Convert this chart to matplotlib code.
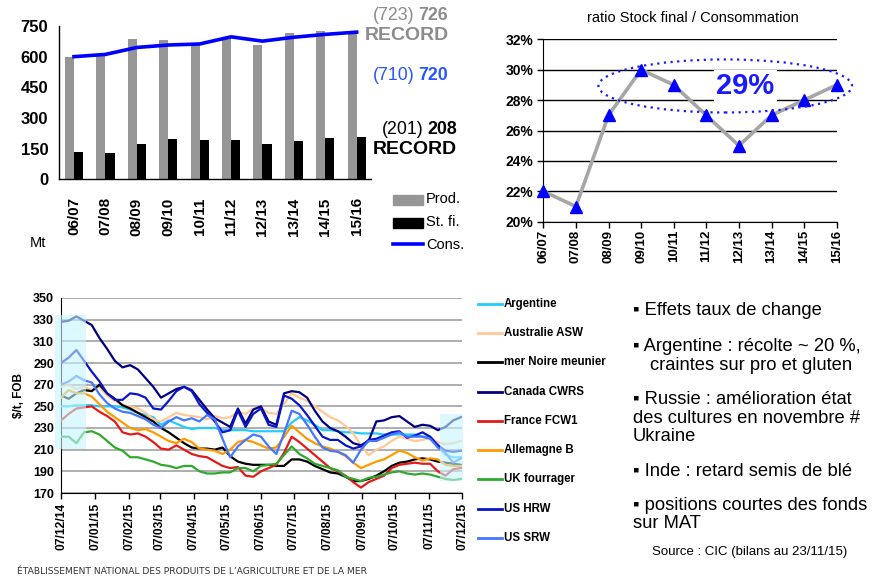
import numpy as np
import pandas as pd
import matplotlib
matplotlib.use('Agg')
import matplotlib.pyplot as plt
import matplotlib.dates as mdates
from matplotlib.patches import Rectangle, Ellipse
from matplotlib.lines import Line2D

plt.rcParams['font.family'] = ['Liberation Sans', 'DejaVu Sans']

# ---------------- data ----------------
campaigns = ['06/07', '07/08', '08/09', '09/10', '10/11', '11/12', '12/13', '13/14', '14/15', '15/16']
production = [597, 604, 686, 680, 662, 696, 659, 716, 725, 723]
stock_final = [134, 129, 173, 197, 192, 192, 173, 188, 203, 208]
consumption = [600, 611, 645, 657, 662, 697, 676, 695, 709, 720]
ratio_pct = [22, 21, 27, 30, 29, 27, 25, 27, 28, 29]

price_dates = pd.date_range('2014-12-07', periods=53, freq='7D')
argentine = [250, 250, 251, 251, 251, 250, 250, 250, 249, 247,
             244, 242, 240, 233, 237, 234, 231, 229, 230, 230,
             230, 228, 228, 228, 228, 227, 227, 227, 227, 227,
             235, 240, 237, 233, 228, 228, 227, 226, 226, 225,
             225, 225, 224, 224, 224, 224, 224, 222, 222, 215,
             205, 203, 203]
australie_asw = [268, 270, 266, 268, 265, 268, 260, 255, 251, 250,
                 248, 244, 238, 236, 240, 244, 242, 241, 240, 238,
                 241, 239, 240, 245, 243, 248, 248, 244, 243, 252,
                 262, 258, 255, 250, 245, 240, 237, 232, 225, 214,
                 205, 210, 213, 218, 222, 220, 218, 219, 221, 217,
                 215, 216, 218]
mer_noire = [260, 257, 262, 265, 264, 270, 262, 257, 251, 248,
             244, 240, 236, 230, 226, 221, 216, 212, 211, 211,
             210, 212, 204, 199, 197, 196, 196, 196, 195, 195,
             201, 201, 199, 195, 192, 189, 188, 185, 181, 181,
             183, 186, 190, 195, 198, 199, 201, 202, 201, 199,
             198, 197, 196]
canada_cwrs = [328, 329, 333, 329, 325, 313, 303, 292, 286, 288,
               284, 276, 268, 258, 262, 266, 268, 265, 256, 247,
               239, 235, 231, 248, 234, 247, 250, 236, 233, 262,
               264, 263, 258, 246, 236, 230, 227, 222, 216, 214,
               218, 236, 237, 240, 241, 236, 231, 233, 232, 228,
               231, 237, 240]
france_fcw1 = [237, 243, 248, 249, 250, 245, 241, 236, 226, 224,
               225, 222, 217, 211, 210, 214, 210, 206, 204, 203,
               199, 195, 193, 194, 186, 185, 190, 193, 196, 207,
               222, 217, 211, 205, 199, 193, 190, 186, 180, 175,
               180, 183, 186, 193, 196, 197, 198, 197, 197, 190,
               186, 192, 193]
allemagne_b = [258, 265, 262, 262, 259, 252, 245, 240, 235, 230,
               228, 229, 226, 222, 218, 216, 220, 217, 211, 210,
               209, 206, 210, 217, 219, 217, 214, 211, 212, 222,
               232, 226, 220, 216, 213, 211, 208, 204, 198, 193,
               196, 199, 201, 205, 209, 207, 203, 200, 202, 201,
               196, 195, 195]
uk_fourrager = [222, 222, 216, 226, 227, 224, 218, 212, 209, 203,
                203, 201, 199, 196, 195, 193, 195, 195, 190, 188,
                188, 189, 189, 193, 193, 190, 195, 196, 197, 205,
                213, 206, 202, 197, 195, 193, 191, 185, 183, 181,
                184, 185, 187, 189, 190, 188, 187, 188, 187, 185,
                183, 182, 183]
us_hrw = [290, 295, 302, 292, 282, 273, 262, 256, 256, 262,
          261, 258, 248, 247, 255, 264, 268, 264, 252, 244,
          236, 226, 228, 246, 231, 243, 248, 233, 231, 260,
          257, 251, 242, 232, 222, 219, 219, 214, 211, 213,
          219, 220, 223, 226, 227, 221, 223, 226, 222, 214,
          209, 208, 209]
us_srw = [270, 273, 278, 274, 272, 261, 253, 248, 245, 244,
          241, 238, 233, 230, 236, 240, 237, 239, 236, 242,
          238, 220, 203, 213, 219, 224, 222, 213, 206, 225,
          246, 243, 233, 222, 212, 209, 208, 205, 198, 210,
          218, 218, 221, 224, 226, 222, 222, 222, 220, 212,
          207, 198, 202]

series_names = ['Argentine', 'Australie ASW', 'mer Noire meunier', 'Canada CWRS',
                'France FCW1', 'Allemagne B', 'UK fourrager', 'US HRW', 'US SRW']
series_values = [argentine, australie_asw, mer_noire, canada_cwrs, france_fcw1,
                 allemagne_b, uk_fourrager, us_hrw, us_srw]
series_colors = ['#22CCFF', '#FFC896', '#000000', '#000080', '#E41A1A',
                 '#FF9900', '#2EAA2E', '#0A14C8', '#4477FF']

# ---------------- figure ----------------
W, H = 872, 579
fig = plt.figure(figsize=(W / 100, H / 100), dpi=100)


def rect(l, t, r, b):
    return [l / W, 1 - b / H, (r - l) / W, (b - t) / H]


def fx(px):
    return px / W


def fy(py):
    return 1 - py / H


# ---- bar chart (top-left) ----
ax1 = fig.add_axes(rect(59.3, 26, 370.7, 179.3))
xi = np.arange(len(campaigns))
bw = 0.29
ax1.bar(xi - bw, production, bw, align='edge', color='#969696', zorder=2)
ax1.bar(xi, stock_final, bw, align='edge', color='#000000', zorder=2)
ax1.plot(xi, consumption, color='#0000FF', lw=2.6, zorder=3)
ax1.set_xlim(-0.468, 9.446)
ax1.set_ylim(0, 750)
ax1.set_yticks([0, 150, 300, 450, 600, 750])
ax1.set_xticks(xi)
ax1.set_xticklabels(campaigns, rotation=90, fontsize=11, fontweight='bold')
for lab in ax1.get_yticklabels():
    lab.set_fontweight('bold')
    lab.set_fontsize(12)
ax1.tick_params(axis='x', length=0, pad=13)
ax1.tick_params(axis='y', length=0, pad=8)
for s in ['top', 'right']:
    ax1.spines[s].set_visible(False)
for s in ['left', 'bottom']:
    ax1.spines[s].set_linewidth(1.0)

# legend of bar chart
fig.add_artist(Rectangle((fx(393), fy(205)), 30 / W, 10 / H, transform=fig.transFigure,
                         color='#969696'))
fig.add_artist(Rectangle((fx(393), fy(228)), 30 / W, 10 / H, transform=fig.transFigure,
                         color='#000000'))
fig.add_artist(Line2D([fx(393), fx(423)], [fy(244), fy(244)], transform=fig.transFigure,
                      color='#0000FF', lw=2.6))
for txt, yy in [('Prod.', 199), ('St. fi.', 222), ('Cons.', 245)]:
    fig.text(fx(426), fy(yy), txt, ha='left', va='center', fontsize=10.5)
fig.text(fx(30), fy(243), 'Mt', ha='left', va='center', fontsize=10.5)

renderer = fig.canvas.get_renderer()


def mixed(xr, yc, parts, size, color):
    x = xr
    for txt, weight in reversed(parts):
        t = fig.text(fx(x), fy(yc), txt, ha='right', va='center', fontsize=size,
                     fontweight=weight, color=color)
        bb = t.get_window_extent(renderer)
        x = bb.x0 - 4


mixed(448, 15, [('(723)', 'normal'), ('726', 'bold')], 12.8, '#8C8C8C')
fig.text(fx(449), fy(35), 'RECORD', ha='right', va='center', fontsize=14,
         fontweight='bold', color='#8C8C8C')
mixed(448, 76, [('(710)', 'normal'), ('720', 'bold')], 12.8, '#2A55FF')
mixed(457, 130, [('(201)', 'normal'), ('208', 'bold')], 12.8, '#000000')
fig.text(fx(457), fy(150), 'RECORD', ha='right', va='center', fontsize=14,
         fontweight='bold', color='#000000')

# ---- ratio chart (top-right) ----
ax2 = fig.add_axes(rect(543.3, 39.3, 836.7, 221.7))
ax2.plot(xi, ratio_pct, color='#A6A6A6', lw=2.6, zorder=3, clip_on=False)
ax2.plot(xi, ratio_pct, ls='none', marker='^', ms=9, color='#0000FF', zorder=4,
         clip_on=False)
ax2.set_xlim(0, 9)
ax2.set_ylim(20, 32)
ax2.set_yticks(range(20, 33, 2))
ax2.set_yticklabels([f'{v}%' for v in range(20, 33, 2)], fontsize=10, fontweight='bold')
ax2.set_xticks(xi)
ax2.set_xticklabels(campaigns, rotation=90, fontsize=9.5, fontweight='bold')
ax2.yaxis.grid(True, color='#000000', lw=1.0, zorder=1)
ax2.tick_params(axis='y', length=4, width=1, pad=3)
ax2.tick_params(axis='x', length=4, width=1, pad=2)
for s in ['top', 'right']:
    ax2.spines[s].set_visible(False)
ax2.set_axisbelow(True)
ell = Ellipse((5.58, 28.93), 7.78, 3.49, fill=False, ls=(0, (1, 2)), ec='#1A1AFF', lw=1.6,
              clip_on=False, zorder=5)
ax2.add_patch(ell)
ax2.text(6.2, 28.95, '29%', ha='center', va='center', fontsize=21, fontweight='bold',
         color='#1A1AFF', zorder=6,
         bbox=dict(facecolor='white', edgecolor='none', pad=1.5))
fig.text(fx(693), fy(18), 'ratio Stock final / Consommation', ha='center', va='center',
         fontsize=10.5)

# ---- price chart (bottom-left) ----
ax3 = fig.add_axes(rect(61, 298, 462, 493))
for vals, col in zip(series_values, series_colors):
    ax3.plot(price_dates, vals, color=col, lw=1.6, zorder=3)
ax3.set_xlim(pd.Timestamp('2014-12-07'), pd.Timestamp('2015-12-07'))
ax3.set_ylim(170, 350)
ax3.set_yticks(range(170, 351, 20))
ax3.yaxis.grid(True, color='#A8A8A8', lw=1.3, zorder=1)
ax3.set_axisbelow(True)
month_ticks = [pd.Timestamp(2014, 12, 7)] + [pd.Timestamp(2015, m, 7) for m in range(1, 13)]
ax3.set_xticks(month_ticks)
ax3.set_xticklabels([d.strftime('%d/%m/%y') for d in month_ticks], rotation=90,
                    fontsize=8.7, fontweight='bold')
for lab in ax3.get_yticklabels():
    lab.set_fontweight('bold')
    lab.set_fontsize(9)
ax3.tick_params(axis='x', length=4, width=1, pad=3)
ax3.tick_params(axis='y', length=0, pad=5)
for s in ['top', 'right']:
    ax3.spines[s].set_visible(False)
ax3.set_ylabel('$/t, FOB', fontsize=8.5, fontweight='bold', labelpad=6)

d0 = mdates.date2num(pd.Timestamp('2014-12-01 12:00'))
ax3.add_patch(Rectangle((d0, 210.5), 28.5, 123.5, facecolor='#C6F6FF', edgecolor='none',
                        alpha=0.6, zorder=4, clip_on=False))
d1 = mdates.date2num(pd.Timestamp('2015-11-17'))
ax3.add_patch(Rectangle((d1, 181), 21, 62, facecolor='#C6F6FF', edgecolor='none',
                        alpha=0.6, zorder=4, clip_on=False))

# legend of price chart
leg_y = [304, 333.3, 362.3, 392.3, 421, 450, 479, 509, 538]
for name, col, yy in zip(series_names, series_colors, leg_y):
    fig.add_artist(Line2D([fx(478), fx(502)], [fy(yy), fy(yy)], transform=fig.transFigure,
                          color=col, lw=2.0))
    fig.text(fx(504), fy(yy), name, ha='left', va='center', fontsize=8.3, fontweight='bold')

# ---- bullet text (right) ----
bullets = [
    ('\u25aa Effets taux de change', 633, 311),
    ('\u25aa Argentine : r\u00e9colte ~ 20 %,', 633, 346.7),
    ('craintes sur pro et gluten', 650, 365),
    ('\u25aa Russie : am\u00e9lioration \u00e9tat', 633, 400),
    ('des cultures en novembre #', 633, 418.3),
    ('Ukraine', 633, 436.7),
    ('\u25aa Inde : retard semis de bl\u00e9', 633, 471.7),
    ('\u25aa positions courtes des fonds', 633, 505),
    ('sur MAT', 633, 523.3),
]
for txt, xx, yy in bullets:
    fig.text(fx(xx), fy(yy), txt, ha='left', va='center', fontsize=13.2)
fig.text(fx(750), fy(552), 'Source : CIC (bilans au 23/11/15)', ha='center', va='center',
         fontsize=9.5)
fig.text(fx(17), fy(572), '\u00c9TABLISSEMENT NATIONAL DES PRODUITS DE L\u2019AGRICULTURE ET DE LA MER',
         ha='left', va='center', fontsize=6.6, family='DejaVu Sans', color='#333333')

fig.savefig('out.png', dpi=100)
